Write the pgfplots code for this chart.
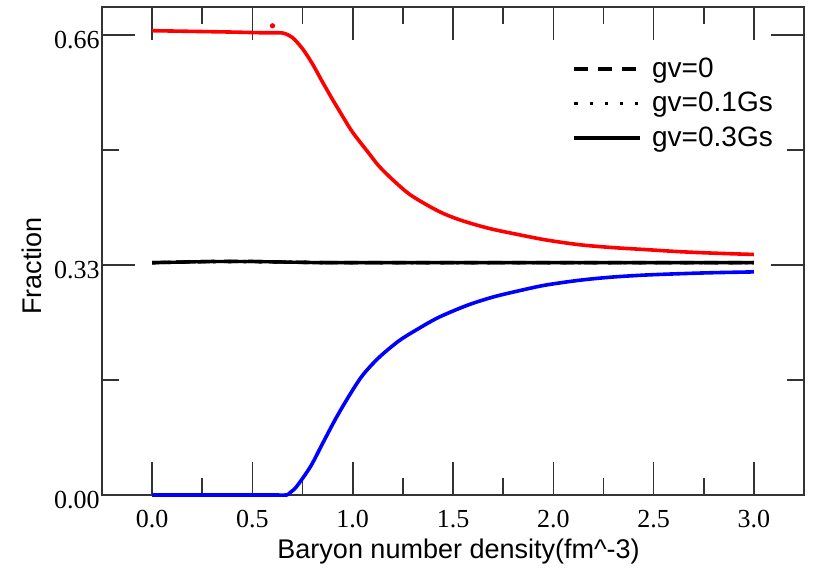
\documentclass[border=0pt]{standalone}
\usepackage{pgfplots}
\pgfplotsset{compat=1.18}
\usepackage{fontspec}
\setmainfont{Liberation Sans}
\newfontfamily\tickfont{Liberation Serif}

\begin{document}
\begin{tikzpicture}
\begin{axis}[
  scale only axis,
  width=351pt, height=244pt,
  xmin=-0.25, xmax=3.25, ymin=0, ymax=0.7,
  clip=false,
  xtick={0,0.5,1,1.5,2,2.5,3},
  xticklabels={0.0,0.5,1.0,1.5,2.0,2.5,3.0},
  minor xtick={0.25,0.75,1.25,1.75,2.25,2.75},
  ytick={0,0.33,0.66},
  yticklabels={0.00,0.33,0.66},
  minor ytick={0.165,0.495},
  tick align=inside,
  xtick pos=both, ytick pos=both,
  xticklabel pos=lower, yticklabel pos=left,
  major tick length=16.5pt, minor tick length=8.5pt,
  axis line style={black!80, line width=0.8pt},
  major tick style={black!80, line width=0.8pt},
  minor tick style={black!80, line width=0.8pt},
  /pgf/number format/assume math mode=true,
  every tick label/.append style={font=\tickfont\fontsize{13}{13}\selectfont, inner sep=0pt},
  xticklabel style={yshift=-7.5pt},
  yticklabel style={xshift=-1pt, yshift=-2.5pt},
  xlabel={Baryon number density(fm\textasciicircum-3)},
  ylabel={Fraction},
  xlabel style={at={(axis description cs:0.508,-0.115)}, anchor=center, font=\fontsize{13.5}{14}\selectfont},
  ylabel style={at={(axis description cs:-0.0997,0.469)}, anchor=center, font=\fontsize{13.5}{14}\selectfont},
  legend style={at={(axis description cs:0.67,0.903)}, anchor=north west, draw=none, fill=none,
    font=\fontsize{14}{14}\selectfont, row sep=3pt, inner sep=0pt, nodes={inner sep=1.5pt},
    /tikz/every odd column/.append style={column sep=3.5pt}},
  legend cell align=left,
  legend image code/.code={\draw[#1] (0pt,0pt) -- (33pt,0pt);},
]
\addplot[red, line width=1.8pt, smooth, tension=0.5, forget plot] coordinates {
(0,0.666)(0.2,0.665)(0.4,0.664)(0.55,0.663)(0.63,0.663)(0.66,0.662)(0.70,0.656)(0.75,0.640)(0.80,0.618)(0.85,0.592)(0.90,0.567)(0.95,0.543)(1.0,0.520)(1.07,0.494)(1.13,0.472)(1.20,0.452)(1.28,0.432)(1.37,0.416)(1.45,0.404)(1.53,0.395)(1.62,0.387)(1.70,0.381)(1.80,0.375)(1.96,0.366)(2.13,0.359)(2.29,0.355)(2.46,0.352)(2.63,0.349)(2.79,0.347)(3.0,0.345)
};
\addplot[red, only marks, mark=*, mark size=1.1pt, forget plot] coordinates {(0.60,0.673)};
\addplot[blue, line width=1.8pt, smooth, tension=0.5, forget plot] coordinates {
(0,0)(0.3,0)(0.6,0)(0.67,0)(0.69,0.004)(0.72,0.012)(0.79,0.041)(0.85,0.074)(0.92,0.112)(0.99,0.146)(1.05,0.172)(1.13,0.197)(1.23,0.221)(1.33,0.239)(1.43,0.255)(1.57,0.272)(1.70,0.284)(1.83,0.293)(1.96,0.301)(2.13,0.308)(2.29,0.3125)(2.46,0.3155)(2.63,0.3174)(2.79,0.3188)(3.0,0.320)
};
\addplot[black, line width=1.7pt, dash pattern=on 7pt off 5pt] coordinates {
(0,0.3333)(0.2,0.3345)(0.3,0.335)(0.5,0.335)(0.6,0.3345)(0.8,0.3335)(1.0,0.3332)(1.5,0.3332)(2.0,0.3332)(2.5,0.3332)(3.0,0.3332)
};
\addlegendentry{gv=0}
\addplot[black, line width=1.7pt, dash pattern=on 1.6pt off 6pt] coordinates {
(0,0.3331)(0.2,0.3343)(0.3,0.3348)(0.5,0.3348)(0.6,0.3343)(0.8,0.3334)(1.0,0.3331)(1.5,0.3331)(2.0,0.3331)(2.5,0.3331)(3.0,0.3331)
};
\addlegendentry{gv=0.1Gs}
\addplot[black, line width=1.7pt] coordinates {
(0,0.3332)(0.2,0.3344)(0.3,0.3349)(0.5,0.3349)(0.6,0.3344)(0.8,0.3334)(1.0,0.3332)(1.5,0.3332)(2.0,0.3332)(2.5,0.3332)(3.0,0.3332)
};
\addlegendentry{gv=0.3Gs}
\path (rel axis cs:-0.1453,-0.1537) rectangle (rel axis cs:1.0142,1.0143);
\end{axis}
\end{tikzpicture}
\end{document}
